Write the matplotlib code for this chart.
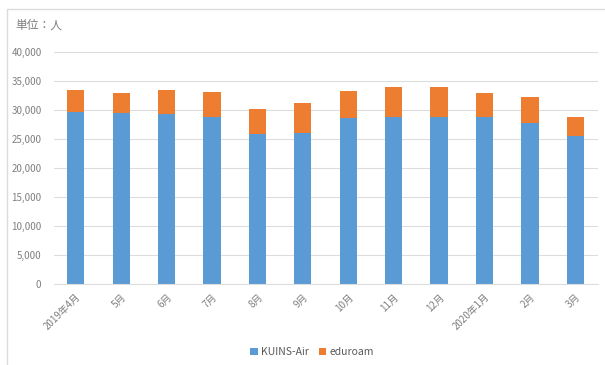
import matplotlib.pyplot as plt
from matplotlib.patches import Rectangle

plt.rcParams['font.family'] = ['Noto Sans CJK JP', 'DejaVu Sans']

months = ['2019年4月', '5月', '6月', '7月', '8月', '9月',
          '10月', '11月', '12月', '2020年1月', '2月', '3月']
kuins_air = [29550, 29480, 29370, 28730, 25780, 26010,
             28560, 28730, 28730, 28730, 27810, 25490]
eduroam = [3870, 3370, 4050, 4340, 4290, 5150,
           4740, 5160, 5270, 4170, 4390, 3290]

blue = '#5B9BD5'
orange = '#ED7D31'
text_gray = '#7F7F7F'
grid_gray = '#DDDDDD'

fig = plt.figure(figsize=(6.05, 3.65), dpi=100)
fig.patch.set_facecolor('white')

# chart frame
fig.patches.append(Rectangle((7 / 605, -0.05), 600 / 605, 1.05 - 9 / 365,
                             transform=fig.transFigure, fill=False,
                             edgecolor='#DCDCDC', linewidth=1.0))

ax = fig.add_axes([54 / 605, (365 - 283.5) / 365, 544 / 605, 231.5 / 365])

x = range(len(months))
ax.bar(x, kuins_air, width=0.38, color=blue, label='KUINS-Air', zorder=3)
ax.bar(x, eduroam, width=0.38, bottom=kuins_air, color=orange,
       label='eduroam', zorder=3)

ax.set_xlim(-0.48, 11.5)
ax.set_ylim(0, 40000)
ax.set_yticks(range(0, 40001, 5000))
ax.set_yticklabels([f'{v:,}' for v in range(0, 40001, 5000)])
ax.yaxis.grid(True, color=grid_gray, linewidth=0.8, zorder=0)

ax.set_xticks(list(x))
ax.set_xticklabels(months, rotation=45, ha='right', rotation_mode='anchor')

for side in ['top', 'right', 'left']:
    ax.spines[side].set_visible(False)
ax.spines['bottom'].set_color(grid_gray)
ax.spines['bottom'].set_zorder(4)
ax.tick_params(axis='both', length=0, labelsize=7, colors=text_gray)
ax.tick_params(axis='y', pad=9)
ax.tick_params(axis='x', pad=6)

fig.text(15 / 605, 1 - 25 / 365, '単位：人', fontsize=8.5, color=text_gray,
         va='center', ha='left')

fig.legend(loc='center', bbox_to_anchor=(312 / 605, 1 - 352 / 365), ncol=2,
           frameon=False, fontsize=7.5, labelcolor='#595959', handlelength=0.7,
           handleheight=0.7, handletextpad=0.3, columnspacing=1.0)

fig.savefig('out.png', dpi=100)
